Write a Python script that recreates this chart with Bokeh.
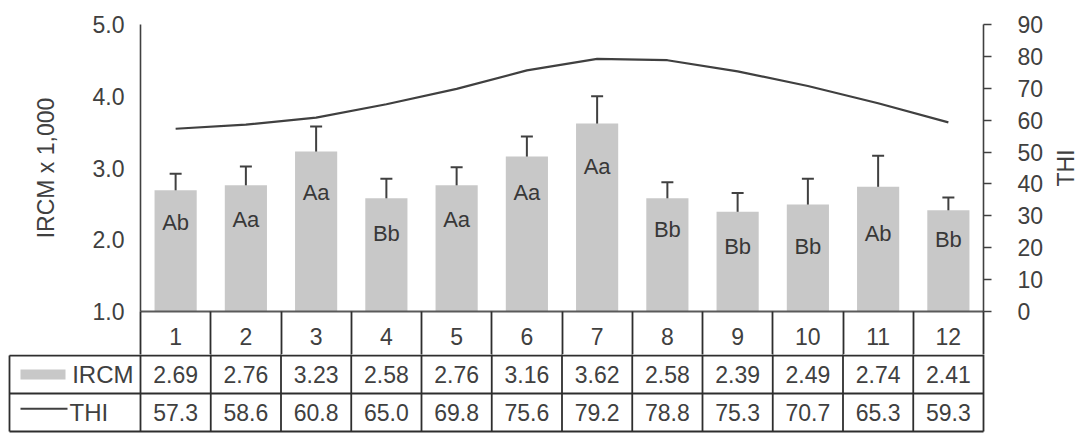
import math
from bokeh.plotting import figure
from bokeh.layouts import row
from bokeh.models import (Range1d, LinearAxis, FixedTicker, NumeralTickFormatter,
                          Whisker, TeeHead, ColumnDataSource)
from bokeh.core.properties import value
from bokeh.embed import file_html
from bokeh.resources import INLINE

# ---------------- data ----------------
months = [1, 2, 3, 4, 5, 6, 7, 8, 9, 10, 11, 12]
ircm = [2.69, 2.76, 3.23, 2.58, 2.76, 3.16, 3.62, 2.58, 2.39, 2.49, 2.74, 2.41]
ircm_err = [0.23, 0.26, 0.35, 0.27, 0.25, 0.28, 0.38, 0.22, 0.26, 0.36, 0.43, 0.18]
thi = [57.3, 58.6, 60.8, 65.0, 69.8, 75.6, 79.2, 78.8, 75.3, 70.7, 65.3, 59.3]
letters = ["Ab", "Aa", "Aa", "Bb", "Aa", "Aa", "Aa", "Bb", "Bb", "Bb", "Ab", "Bb"]
left_ticks = [1.0, 2.0, 3.0, 4.0, 5.0]
right_ticks = [0, 10, 20, 30, 40, 50, 60, 70, 80, 90]
row_names = ["IRCM", "THI"]
left_title = "IRCM x 1,000"
right_title = "THI"

# ---------------- style ----------------
FONT = "Liberation Sans"
TXT = "#404040"
LINE = "#2e2e2e"
BAR = "#c8c8c8"
W = 1081
W_TITLE = 31           # strip holding the right axis title
W_A = W - W_TITLE
FRAME_L = 140
FRAME_R = 983
FRAME_W = FRAME_R - FRAME_L
PPU = FRAME_W / 12.0

# ---------------- chart ----------------
p = figure(width=W_A, height=354, x_range=Range1d(0.5, 12.5),
           y_range=Range1d(left_ticks[0], left_ticks[-1]),
           output_backend="svg", toolbar_location=None,
           min_border_left=FRAME_L, min_border_right=W_A - FRAME_R,
           min_border_top=24, min_border_bottom=43)
p.outline_line_color = None
p.xgrid.visible = False
p.ygrid.visible = False

bounds = [m - 0.5 for m in months] + [months[-1] + 0.5]
xa = p.xaxis[0]
xa.ticker = FixedTicker(ticks=months, minor_ticks=bounds)
xa.major_tick_out = 0
xa.major_tick_in = 0
xa.minor_tick_out = 44
xa.minor_tick_in = 0
xa.minor_tick_line_color = LINE
xa.minor_tick_line_width = 1.8
xa.axis_line_color = "#5a5a5a"
xa.axis_line_width = 2.2
xa.major_label_text_font = FONT
xa.major_label_text_font_size = "23px"
xa.major_label_text_color = TXT
xa.major_label_standoff = -28

ya = p.yaxis[0]
ya.ticker = FixedTicker(ticks=left_ticks)
ya.formatter = NumeralTickFormatter(format="0.0")
ya.major_tick_out = 0
ya.major_tick_in = 0
ya.minor_tick_out = 0
ya.minor_tick_in = 0
ya.axis_line_color = "#404040"
ya.axis_line_width = 1.6
ya.major_label_text_font = FONT
ya.major_label_text_font_size = "23px"
ya.major_label_text_color = TXT
ya.major_label_standoff = 16
ya.axis_label = left_title
ya.axis_label_text_font = FONT
ya.axis_label_text_font_size = "23px"
ya.axis_label_text_font_style = "normal"
ya.axis_label_text_color = TXT
ya.axis_label_standoff = 31

p.extra_y_ranges = {"thi": Range1d(right_ticks[0], right_ticks[-1])}
ra = LinearAxis(y_range_name="thi", ticker=FixedTicker(ticks=right_ticks))
ra.major_tick_out = 8
ra.major_tick_in = 0
ra.minor_tick_out = 0
ra.minor_tick_in = 0
ra.major_tick_line_color = "#404040"
ra.major_tick_line_width = 1.6
ra.axis_line_color = "#404040"
ra.axis_line_width = 1.6
ra.major_label_text_font = FONT
ra.major_label_text_font_size = "23px"
ra.major_label_text_color = TXT
ra.major_label_standoff = 26
p.add_layout(ra, "right")

src = ColumnDataSource(dict(
    x=months, top=ircm,
    upper=[v + e for v, e in zip(ircm, ircm_err)],
    lower=[v - e for v, e in zip(ircm, ircm_err)],
    lab=letters))

p.vbar(x="x", top="top", bottom=0, width=0.6, source=src,
       fill_color=BAR, line_color=None)

wh = Whisker(source=src, base="x", upper="upper", lower="lower",
             line_color="#404040", line_width=2,
             upper_head=TeeHead(size=12, line_color="#404040", line_width=2),
             lower_head=TeeHead(size=12, line_color="#404040", line_width=2))
p.add_layout(wh)

p.text(x="x", y="lower", text="lab", source=src, text_align="center",
       text_baseline="middle", y_offset=16,
       text_font=value(FONT), text_font_size="22px", text_color="#383838")

p.line(months, thi, y_range_name="thi", line_color="#404040", line_width=2.2)

# right axis title strip
pt = figure(width=W_TITLE, height=354, x_range=Range1d(0, 1), y_range=Range1d(0, 1),
            output_backend="svg", toolbar_location=None,
            x_axis_location=None, y_axis_location=None,
            min_border_left=0, min_border_right=0, min_border_top=0, min_border_bottom=0)
pt.outline_line_color = None
pt.xgrid.visible = False
pt.ygrid.visible = False
pt.text(x=[0.5], y=[0.5], text=[right_title], angle=math.pi / 2,
        text_align="center", text_baseline="middle",
        text_font=value(FONT), text_font_size="23px", text_color=TXT)

# ---------------- data table (IRCM / THI rows) ----------------
RH = 38.0
TB_TOP = 2 + 1 / RH
TB_BOT = -4 / RH
x_start = 0.5 - FRAME_L / PPU
x_end = 12.5 + 3 / PPU
x_left = 0.5 - (FRAME_L - 9) / PPU

t = figure(width=W, height=81, x_range=Range1d(x_start, x_end),
           y_range=Range1d(TB_BOT, TB_TOP),
           output_backend="svg", toolbar_location=None,
           x_axis_location=None, y_axis_location=None,
           min_border_left=0, min_border_right=W - 986,
           min_border_top=0, min_border_bottom=0)
t.outline_line_color = None
t.xgrid.visible = False
t.ygrid.visible = False

t.segment(x0=bounds, y0=[0] * len(bounds), x1=bounds, y1=[3] * len(bounds),
          line_color=LINE, line_width=1.8)
t.segment(x0=[x_left], y0=[0], x1=[x_left], y1=[2], line_color=LINE, line_width=1.8)
t.segment(x0=[x_left] * 3, y0=[2, 1, 0], x1=[12.5] * 3, y1=[2, 1, 0],
          line_color=LINE, line_width=1.8)

txt_kw = dict(text_align="center", text_baseline="middle",
              text_font=value(FONT), text_font_size="23px", text_color=TXT)
t.text(x=months, y=[1.5] * 12, text=["%.2f" % v for v in ircm], **txt_kw)
t.text(x=months, y=[0.5] * 12, text=["%.1f" % v for v in thi], **txt_kw)

# legend keys
t.quad(left=[x_left + 11 / PPU], right=[x_left + 56 / PPU],
       bottom=[1.5 - 5 / RH], top=[1.5 + 5 / RH],
       fill_color=BAR, line_color=None)
t.segment(x0=[x_left + 11 / PPU], y0=[0.6], x1=[x_left + 58 / PPU], y1=[0.6],
          line_color="#404040", line_width=2)
t.text(x=[0.5], y=[1.5], text=[row_names[0]], x_offset=-7, text_align="right",
       text_baseline="middle", text_font=value(FONT), text_font_size="24px",
       text_color=TXT)
t.text(x=[x_left + 60 / PPU], y=[0.5], text=[row_names[1]], text_align="left",
       text_baseline="middle", text_font=value(FONT), text_font_size="24px",
       text_color=TXT)

open("out.html", "w").write(file_html([row(p, pt), t], INLINE))
